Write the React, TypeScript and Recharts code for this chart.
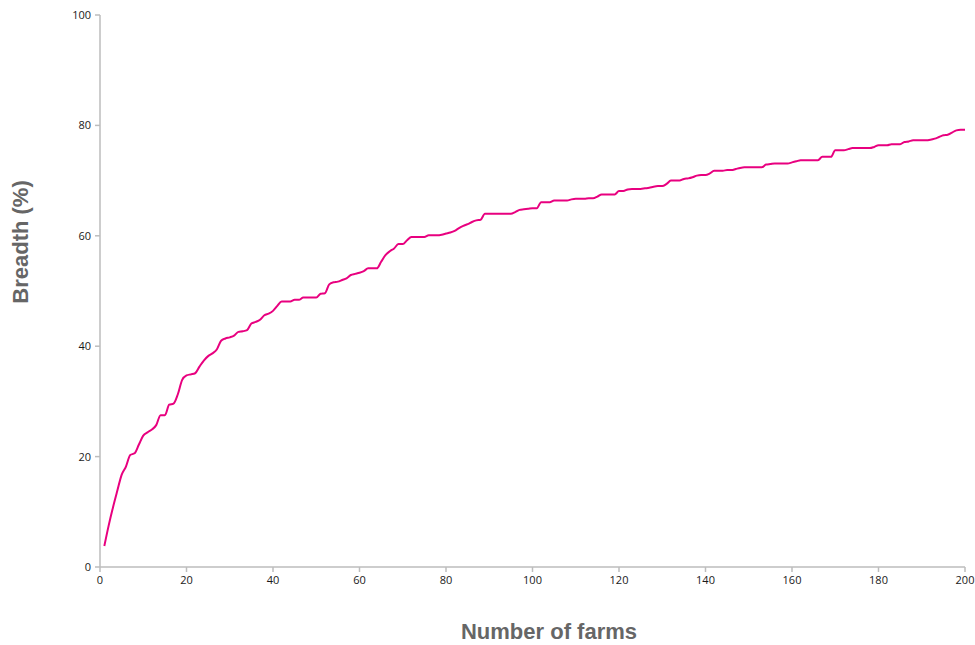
import React from "react";
import { CartesianGrid, Label, Line, LineChart, XAxis, YAxis } from "recharts";

const BREADTH = [
  3.8, 7.5, 10.8, 13.8, 16.7, 18.2, 20.3, 20.6, 22.2, 23.8,
  24.4, 24.9, 25.7, 27.5, 27.5, 29.4, 29.6, 31.3, 33.9, 34.7,
  34.9, 35.1, 36.3, 37.4, 38.2, 38.7, 39.4, 41.0, 41.4, 41.6,
  41.9, 42.6, 42.7, 42.9, 44.1, 44.4, 44.8, 45.6, 45.9, 46.4,
  47.3, 48.1, 48.1, 48.1, 48.4, 48.4, 48.8, 48.8, 48.8, 48.8,
  49.5, 49.6, 51.2, 51.6, 51.7, 52.0, 52.3, 52.9, 53.1, 53.3,
  53.6, 54.1, 54.1, 54.1, 55.3, 56.5, 57.2, 57.7, 58.5, 58.5,
  59.2, 59.8, 59.8, 59.8, 59.8, 60.1, 60.1, 60.1, 60.2, 60.4,
  60.6, 60.9, 61.4, 61.8, 62.1, 62.5, 62.8, 62.9, 64.0, 64.0,
  64.0, 64.0, 64.0, 64.0, 64.0, 64.3, 64.7, 64.8, 64.9, 65.0,
  65.0, 66.1, 66.1, 66.1, 66.4, 66.4, 66.4, 66.4, 66.6, 66.7,
  66.7, 66.7, 66.8, 66.8, 67.1, 67.5, 67.5, 67.5, 67.5, 68.1,
  68.1, 68.4, 68.5, 68.5, 68.5, 68.6, 68.7, 68.9, 69.0, 69.0,
  69.4, 70.0, 70.0, 70.0, 70.3, 70.4, 70.6, 70.9, 71.0, 71.0,
  71.3, 71.8, 71.8, 71.8, 71.9, 71.9, 72.1, 72.3, 72.4, 72.4,
  72.4, 72.4, 72.4, 72.9, 73.0, 73.1, 73.1, 73.1, 73.1, 73.3,
  73.5, 73.7, 73.7, 73.7, 73.7, 73.7, 74.3, 74.3, 74.3, 75.5,
  75.5, 75.5, 75.7, 75.9, 75.9, 75.9, 75.9, 75.9, 76.1, 76.4,
  76.4, 76.4, 76.6, 76.6, 76.6, 77.0, 77.1, 77.3, 77.3, 77.3,
  77.3, 77.4, 77.6, 77.9, 78.2, 78.3, 78.7, 79.1, 79.2, 79.2,
];

const X_TICKS = [0, 20, 40, 60, 80, 100, 120, 140, 160, 180, 200];
const Y_TICKS = [0, 20, 40, 60, 80, 100];

const data = BREADTH.map((v, i) => ({ farms: i + 1, breadth: v }));

const AXIS_COLOR = "#bdbdbd";
const TICK_STYLE = { fontSize: 11, fill: "#1a1a1a", fontFamily: "'Open Sans', sans-serif" };
const TITLE_STYLE = { fontSize: 22, fontWeight: 700, fill: "#666666", fontFamily: "'Liberation Sans', Arial, sans-serif" };

export default function App() {
  return (
    <div style={{ position: "absolute", left: 0, top: 0, width: 975, height: 645, background: "#fff" }}>
      <LineChart width={975} height={645} data={data} margin={{ top: 15, right: 10, bottom: 0, left: 0 }}>
        <CartesianGrid stroke="none" />
        <XAxis
          type="number"
          dataKey="farms"
          domain={[0, 200]}
          ticks={X_TICKS}
          interval={0}
          height={78}
          tick={TICK_STYLE}
          tickSize={5}
          tickMargin={4}
          stroke={AXIS_COLOR}
          axisLine={{ stroke: AXIS_COLOR, strokeWidth: 1.5 }}
          tickLine={{ stroke: AXIS_COLOR, strokeWidth: 1.5 }}
        >
          <Label
            content={() => (
              <text x={549} y={639} textAnchor="middle" style={TITLE_STYLE}>
                Number of farms
              </text>
            )}
          />
        </XAxis>
        <YAxis
          type="number"
          domain={[0, 100]}
          ticks={Y_TICKS}
          interval={0}
          width={100}
          tick={TICK_STYLE}
          tickSize={5}
          tickMargin={4}
          stroke={AXIS_COLOR}
          axisLine={{ stroke: AXIS_COLOR, strokeWidth: 1.5 }}
          tickLine={{ stroke: AXIS_COLOR, strokeWidth: 1.5 }}
        >
          <Label
            content={() => (
              <text
                x={28}
                y={242}
                textAnchor="middle"
                transform="rotate(-90 28 242)"
                style={TITLE_STYLE}
              >
                Breadth (%)
              </text>
            )}
          />
        </YAxis>
        <Line
          isAnimationActive={false}
          type="monotone"
          dataKey="breadth"
          stroke="#e8007f"
          strokeWidth={2}
          dot={false}
        />
      </LineChart>
    </div>
  );
}
